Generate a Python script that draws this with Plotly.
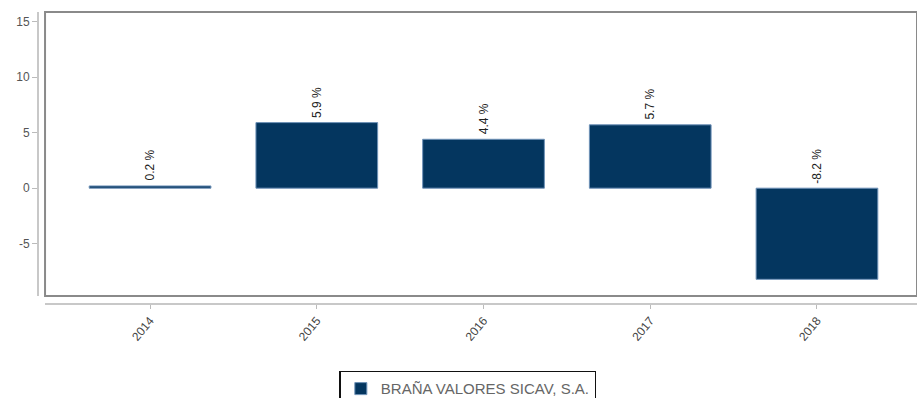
import plotly.graph_objects as go

years = ["2014", "2015", "2016", "2017", "2018"]
returns = [0.2, 5.9, 4.4, 5.7, -8.2]
series_name = "BRAÑA VALORES SICAV, S.A."
y_ticks = [-5, 0, 5, 10, 15]
y_tick_labels = ["-5", "0", "5", "10", "15"]

BAR_FILL = "#04365f"
BAR_EDGE = "#6f92b8"
FONT = "Liberation Sans, Arial, sans-serif"

fig = go.Figure()
fig.add_trace(go.Bar(
    x=years,
    y=returns,
    name=series_name,
    width=0.73,
    marker=dict(color=BAR_FILL, line=dict(color=BAR_EDGE, width=1)),
    showlegend=True,
))

# value labels, written vertically just above the bar (or above zero for losses)
for i, v in enumerate(returns):
    fig.add_annotation(
        x=i, y=max(v, 0), text=f"{v:.1f} %",
        textangle=-90, showarrow=False,
        xanchor="center", yanchor="bottom", yshift=3,
        font=dict(family=FONT, size=12, color="#222"),
    )

# framed plot box
fig.add_shape(type="rect", xref="x domain", yref="y domain",
              x0=0, x1=1, y0=0, y1=1,
              line=dict(color="#8a8a8a", width=2))

fig.update_layout(
    width=917, height=398,
    margin=dict(l=38, r=0, t=12, b=94, autoexpand=False),
    paper_bgcolor="white", plot_bgcolor="white",
    font=dict(family=FONT, size=12, color="#555"),
    xaxis=dict(
        type="category",
        domain=[0.008, 1],
        range=[-0.63, 4.6],
        anchor="free", position=0,
        showline=True, linecolor="#c8c8c8", linewidth=2,
        ticks="outside", ticklen=4, tickcolor="#bbbbbb",
        tickangle=-50, showgrid=False, zeroline=False,
        tickfont=dict(size=12, color="#444"),
    ),
    yaxis=dict(
        domain=[0.0274, 1],
        range=[-9.7, 15.85],
        anchor="free", position=0,
        tickvals=y_ticks, ticktext=y_tick_labels,
        showline=True, linecolor="#c8c8c8", linewidth=2,
        ticks="outside", ticklen=5, tickcolor="#bbbbbb",
        showgrid=False, zeroline=False,
        tickfont=dict(size=12, color="#555"),
    ),
    legend=dict(
        orientation="h",
        x=0.489, xanchor="center",
        y=-0.229, yanchor="top",
        bordercolor="#111", borderwidth=1.5,
        font=dict(size=15, color="#666"),
    ),
)

fig.write_html("out.html")
